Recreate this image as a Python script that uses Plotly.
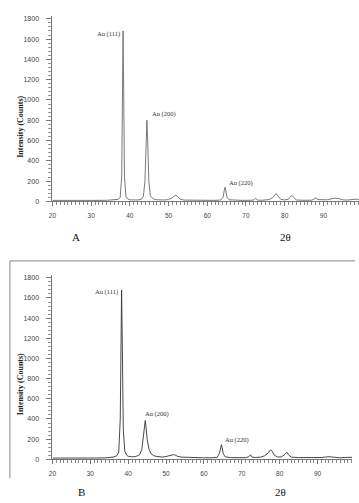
import plotly.graph_objects as go

# Panel A data (2θ, counts)
theta_a = [20, 22, 24, 26, 28, 30, 32, 34, 35, 36, 37, 37.5, 37.9, 38.1, 38.25, 38.4, 38.6, 39, 39.5, 40,
           41, 42, 43, 43.5, 43.9, 44.2, 44.4, 44.6, 44.9, 45.3, 46, 47, 48, 49, 50, 51, 51.5, 51.9, 52.3, 53,
           54, 56, 58, 60, 62, 63.5, 64.1, 64.4, 64.6, 64.8, 65.1, 65.6, 67, 69, 71, 72, 72.5, 73, 74, 75,
           76, 77, 77.5, 77.8, 78.2, 79, 80, 81, 81.5, 81.9, 82.3, 83, 85, 87, 87.8, 88.1, 88.5, 90, 91, 92,
           93, 94, 95, 96, 97, 98, 98.5, 99.2]
counts_a = [10, 9, 10, 9, 10, 9, 10, 11, 12, 14, 20, 40, 250, 1100, 1680, 1100, 250, 45, 22, 15,
            12, 14, 22, 50, 200, 600, 800, 600, 200, 55, 25, 16, 13, 14, 18, 35, 55, 62, 50, 22,
            13, 11, 10, 10, 10, 14, 40, 110, 140, 105, 40, 16, 11, 10, 11, 14, 30, 13, 11, 12,
            18, 40, 72, 78, 55, 20, 14, 22, 48, 58, 40, 14, 11, 12, 28, 36, 18, 12, 15, 25,
            33, 28, 16, 13, 16, 25, 22, 15]

# Panel B data (2θ, counts)
theta_b = [20, 22, 24, 26, 28, 30, 32, 34, 35, 36, 37, 37.5, 37.9, 38.1, 38.25, 38.45, 38.7, 39.1, 39.6, 40,
           41, 42, 43, 43.6, 44, 44.3, 44.5, 44.7, 45, 45.5, 46, 47, 48, 49, 50, 51, 51.6, 52, 52.5, 53,
           54, 56, 58, 60, 62, 63.5, 64.1, 64.4, 64.6, 64.8, 65.1, 65.6, 67, 69, 71, 71.8, 72.3, 72.7, 73.5, 75,
           76, 77, 77.6, 78, 78.6, 79.5, 80.5, 81.4, 81.9, 82.3, 83, 85, 87, 89, 91, 92, 93, 94, 95, 96,
           97, 98, 99.1]
counts_b = [12, 11, 12, 11, 12, 12, 13, 15, 17, 22, 35, 70, 400, 1200, 1680, 1100, 300, 80, 40, 30,
            25, 28, 45, 100, 220, 340, 385, 320, 200, 100, 55, 32, 25, 22, 28, 40, 48, 47, 40, 30,
            22, 18, 16, 15, 15, 20, 60, 120, 145, 115, 55, 25, 17, 16, 17, 25, 45, 22, 18, 22,
            35, 65, 95, 80, 40, 22, 25, 50, 70, 45, 22, 17, 16, 17, 18, 22, 26, 22, 18, 15,
            18, 22, 20]

y_ticks = [0, 200, 400, 600, 800, 1000, 1200, 1400, 1600, 1800]
x_ticks = [20, 30, 40, 50, 60, 70, 80, 90]

peak_labels = ["Au (111)", "Au (200)", "Au (220)"]
label_a = [(38.0, 1653), (45.1, 860), (65.0, 186)]
label_b = [(37.9, 1663), (43.8, 445), (64.9, 190)]

W, H = 359, 503

fig = go.Figure()
fig.add_trace(go.Scatter(x=theta_a, y=counts_a, mode="lines", line=dict(color="#6a6a6a", width=0.9),
                         xaxis="x", yaxis="y", showlegend=False, hoverinfo="skip"))
fig.add_trace(go.Scatter(x=theta_b, y=counts_b, mode="lines", line=dict(color="#333333", width=0.9),
                         xaxis="x2", yaxis="y2", showlegend=False, hoverinfo="skip"))

def xaxis(rng, dom, anchor):
    return dict(range=rng, domain=dom, anchor=anchor, tickvals=x_ticks, showgrid=False, zeroline=False,
                showline=True, linecolor="#777", linewidth=1, ticks="outside", ticklen=4, tickcolor="#777",
                tickwidth=0.8, ticklabelstandoff=4,
                tickfont=dict(family="Arial, Liberation Sans", size=6.5, color="#444"),
                minor=dict(dtick=1, ticks="outside", ticklen=2.5, tickcolor="#888", tickwidth=0.6))

def yaxis(dom, anchor):
    return dict(range=[0, 1830], domain=dom, anchor=anchor, tickvals=y_ticks, showgrid=False, zeroline=False,
                showline=True, linecolor="#777", linewidth=1, ticks="outside", ticklen=5, tickcolor="#777",
                tickwidth=0.8, ticklabelstandoff=6,
                tickfont=dict(family="Arial, Liberation Sans", size=7, color="#444"),
                minor=dict(dtick=40, ticks="outside", ticklen=3, tickcolor="#999", tickwidth=0.6))

fig.update_layout(
    width=W, height=H, margin=dict(l=0, r=0, t=0, b=0),
    paper_bgcolor="white", plot_bgcolor="white",
    xaxis=xaxis([20, 99.2], [49 / W, 1.0], "y"),
    yaxis=yaxis([1 - 202 / H, 1 - 14.9 / H], "x"),
    xaxis2=xaxis([20, 99.1], [49 / W, 352 / W], "y2"),
    yaxis2=yaxis([1 - 462 / H, 1 - 276 / H], "x2"),
)

serif = "Times New Roman, Liberation Serif, serif"
ann = []
for (xa, ya), txt in zip(label_a, peak_labels):
    xanchor = "right" if txt == "Au (111)" else "left"
    ann.append(dict(x=xa, y=ya, xref="x", yref="y", text=txt, showarrow=False, xanchor=xanchor,
                    yanchor="middle", font=dict(family=serif, size=6.5, color="#333")))
for (xb, yb), txt in zip(label_b, peak_labels):
    xanchor = "right" if txt == "Au (111)" else "left"
    ann.append(dict(x=xb, y=yb, xref="x2", yref="y2", text=txt, showarrow=False, xanchor=xanchor,
                    yanchor="middle", font=dict(family=serif, size=6.5, color="#333")))

for yc in [1 - 127 / H, 1 - 386.5 / H]:
    ann.append(dict(x=17 / W, y=yc, xref="paper", yref="paper", text="<b>Intensity (Counts)</b>",
                    textangle=-90, showarrow=False, xanchor="center", yanchor="middle",
                    font=dict(family=serif, size=8, color="#222")))

for txt, xp, yp in [("A", 73, 238), ("2θ", 285, 238), ("B", 78, 495), ("2θ", 280, 495)]:
    ann.append(dict(x=xp / W, y=1 - yp / H, xref="paper", yref="paper", text=txt, showarrow=False,
                    xanchor="center", yanchor="middle", font=dict(family=serif, size=11, color="#111")))

fig.update_layout(annotations=ann)

# frame around panel B (top and left edges)
fig.add_shape(type="line", xref="paper", yref="paper", x0=6 / W, x1=355 / W, y0=1 - 262 / H, y1=1 - 262 / H,
              line=dict(color="#888", width=1))
fig.add_shape(type="line", xref="paper", yref="paper", x0=6 / W, x1=6 / W, y0=1 - 262 / H, y1=1 - 481 / H,
              line=dict(color="#888", width=1))

fig.write_html("out.html")
